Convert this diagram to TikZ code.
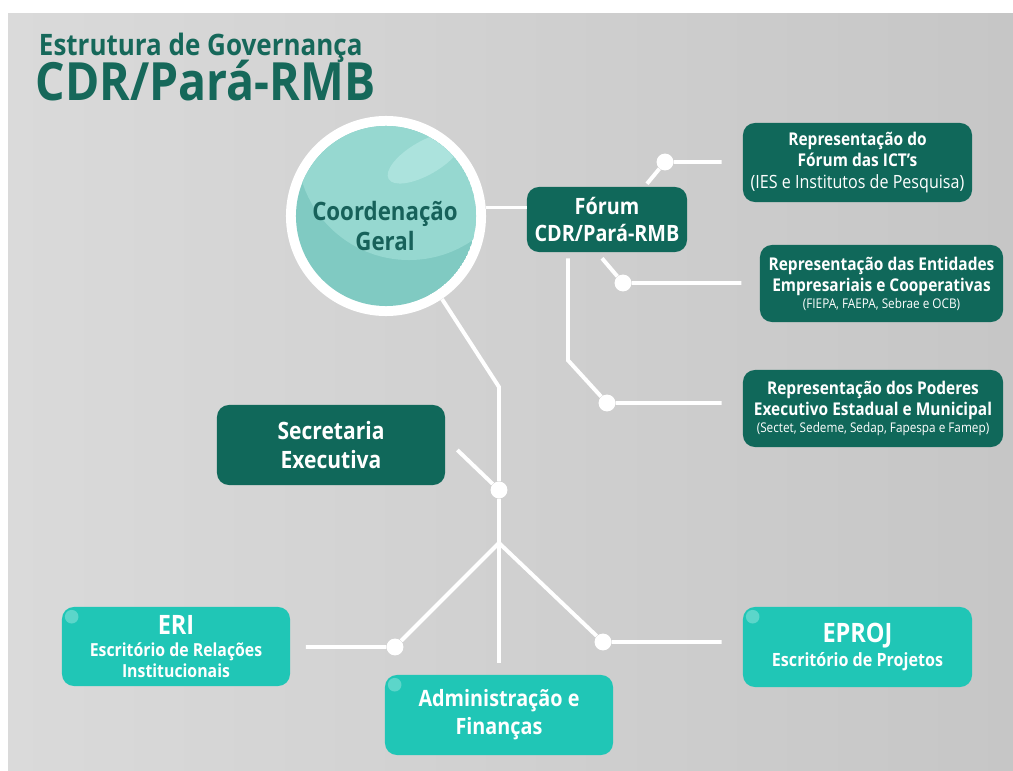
\documentclass[tikz,border=0pt]{standalone}
\usepackage{fontspec}
\setmainfont{Open Sans}[FakeStretch=0.88]
\usetikzlibrary{calc,positioning}

\definecolor{govdark}{HTML}{10685A}
\definecolor{govteal}{HTML}{20C6B6}
\definecolor{govspot}{HTML}{5CD6CA}
\definecolor{govtitle}{HTML}{16685A}
\definecolor{govtext}{HTML}{17615A}
\definecolor{govball}{HTML}{80CAC2}
\definecolor{govballlight}{HTML}{96D8D0}
\definecolor{govshine}{HTML}{ACE3DD}
\definecolor{bgleft}{HTML}{DADADA}
\definecolor{bgright}{HTML}{C6C6C6}

\tikzset{
  darkbox/.style={rounded corners=8.5pt, fill=govdark, text=white, align=center,
    inner sep=0pt, minimum width=5.7cm, minimum height=2cm},
  tealbox/.style={darkbox, fill=govteal},
  link/.style={draw=white, line width=2.8pt},
  joint/.style={circle, fill=white, inner sep=0pt, minimum size=12pt},
}

\begin{document}
\begin{tikzpicture}[x=0.025cm, y=-0.025cm]
  \useasboundingbox (0,0) rectangle (1013,770);
  \fill[white] (0,0) rectangle (1013,770);
  \shade[left color=bgleft, right color=bgright] (8,13) rectangle (1013,770);

  % title
  \node[anchor=base west, text=govtitle, font=\fontsize{21}{24}\selectfont\bfseries]
    (title) at (34,55) {Estrutura de Governança};
  \node[anchor=base west, text=govtitle, font=\fontsize{37.5}{40}\selectfont\bfseries]
    (subtitle) at (31,100) {CDR/Pará-RMB};

  % coordination ball
  \node[circle, fill=white, inner sep=0pt, minimum size=5cm] (coord) at (386,216) {};
  \begin{scope}
    \clip (coord.center) circle (2.25cm);
    \fill[govball] (coord.center) circle (2.25cm);
    \fill[govballlight] (409,148) circle (2.8cm);
    \fill[govshine, rotate around={30:(425,158)}] (425,158) ellipse (1.05cm and 0.42cm);
  \end{scope}
  \node[text=govtext, align=center, font=\fontsize{18}{22}\selectfont\bfseries]
    (coordtext) at (385,226) {Coordenação\\Geral};

  % forum and its representations
  \node[darkbox, minimum width=4cm, minimum height=1.625cm,
    font=\fontsize{16}{19}\selectfont\bfseries] (forum) at (607,219.5) {Fórum\\CDR/Pará-RMB};
  \node[darkbox, minimum width=5.725cm, minimum height=1.975cm,
    font=\fontsize{12.5}{15}\selectfont\bfseries] (rep1) at (857.5,162.5)
    {Representação do\\Fórum das ICT’s\\{\fontsize{13}{15}\selectfont\mdseries (IES e Institutos de Pesquisa)}};
  \node[darkbox, minimum width=6.075cm, minimum height=1.925cm,
    font=\fontsize{12.5}{15}\selectfont\bfseries] (rep2) at (881.5,283.5)
    {Representação das Entidades\\Empresariais e Cooperativas\\[-3pt]
     {\fontsize{9.5}{10}\selectfont\mdseries (FIEPA, FAEPA, Sebrae e OCB)}};
  \node[darkbox, minimum width=6.5cm, minimum height=1.925cm,
    font=\fontsize{12.5}{15}\selectfont\bfseries] (rep3) at (873,408.5)
    {Representação dos Poderes\\Executivo Estadual e Municipal\\[-3pt]
     {\fontsize{9.5}{10}\selectfont\mdseries (Sectet, Sedeme, Sedap, Fapespa e Famep)}};

  % executive units
  \node[darkbox, font=\fontsize{17}{20}\selectfont\bfseries] (sec) at (331,445)
    {Secretaria\\Executiva};
  \node[tealbox, minimum height=1.975cm, font=\fontsize{12.8}{14.5}\selectfont\bfseries]
    (eri) at (176,646.5) {{\fontsize{19}{20}\selectfont ERI}\\[1pt]Escritório de Relações\\Institucionais};
  \node[tealbox, font=\fontsize{16}{20}\selectfont\bfseries] (adm) at (499,715)
    {Administração e\\Finanças};
  \node[tealbox, minimum width=5.725cm, font=\fontsize{13}{15}\selectfont\bfseries]
    (eproj) at (857.5,647) {{\fontsize{19}{20}\selectfont EPROJ}\\[2pt]Escritório de Projetos};
  \foreach \b in {eri,adm,eproj}
    \fill[govspot] ([shift={(10,10)}]\b.north west) circle (0.17cm);

  % joints
  \node[joint] (j1) at (665,162) {};
  \node[joint] (j2) at (623,283) {};
  \node[joint] (j3) at (607,403) {};
  \node[joint] (j4) at (499,490) {};
  \node[joint] (j5) at (395,647) {};
  \node[joint] (j6) at (603,642) {};
  \coordinate (bend) at (499,387);
  \coordinate (fork) at (499,543);

  % connectors
  \draw[link] ($(forum.west)+(0,-12)$) coordinate (fw) -- (fw -| coord.east);
  \draw[link, shorten >=15pt] ($(forum.north)+(40,-3)$) -- (j1) -- (j1 -| rep1.west);
  \draw[link, shorten >=13pt] ($(forum.south)+(-5,6)$) -- (j2) -- (j2 -| rep2.west);
  \draw[link, shorten >=15pt] ($(forum.south)+(-39,6)$) -- ++(0,102) -- (j3) -- (j3 -| rep3.west);
  \draw[link] (coord.-56) -- (bend) -- (j4) -- (fork);
  \draw[link] ($(sec.east)+(12,5)$) -- (j4);
  \draw[link, shorten >=11pt] (fork) -- (j5) -- (j5 -| eri.east);
  \draw[link, shorten >=8.5pt] (fork) -- (fork |- adm.north);
  \draw[link, shorten >=15pt] (fork) -- (j6) -- (j6 -| eproj.west);
\end{tikzpicture}
\end{document}
